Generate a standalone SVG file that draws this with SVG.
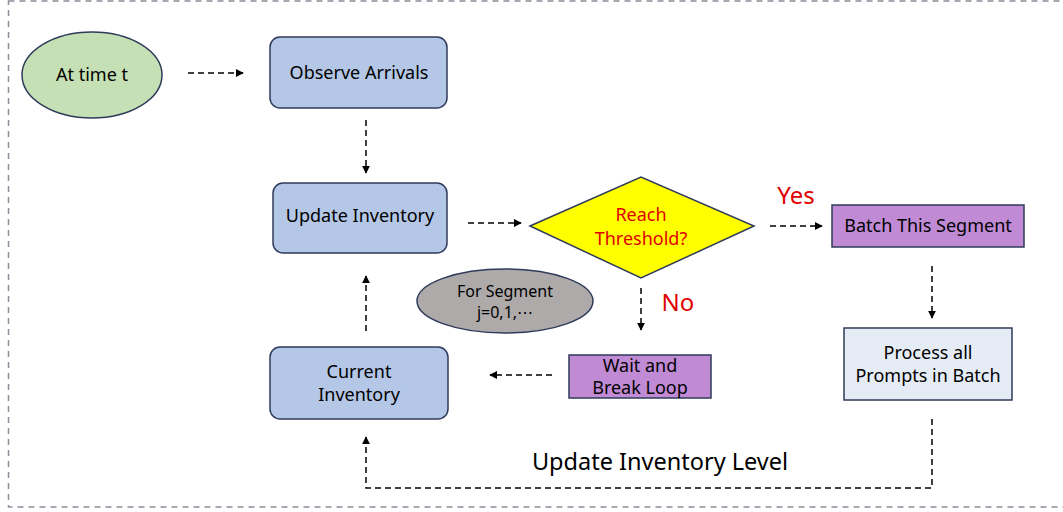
<svg xmlns="http://www.w3.org/2000/svg" width="1063" height="512" viewBox="0 0 1063 512">
<defs>
<marker id="ah" viewBox="0 0 10 10" refX="9" refY="5" markerWidth="8" markerHeight="8" markerUnits="userSpaceOnUse" orient="auto"><path d="M0,0 L10,5 L0,10 z" fill="#000"/></marker>
<style>
.t{font-family:"Noto Sans","Open Sans",sans-serif;font-size:18px;fill:#000;text-anchor:middle}
.r{fill:#e00000}
.n{stroke:#2f3b5a;stroke-width:1.5}
.c{fill:none;stroke:#000;stroke-width:1.5;stroke-dasharray:6,4}
</style>
</defs>
<rect x="8.5" y="1" width="1080" height="506" fill="none" stroke="#8a8f99" stroke-width="1.5" stroke-dasharray="6,5"/>
<g id="n-time"><ellipse class="n" cx="92" cy="75" rx="70" ry="43" fill="#c5e0b4"/><text class="t" x="92" y="81">At time t</text></g>
<g id="n-observe"><rect class="n" x="270" y="37" width="177" height="71" rx="10" fill="#b4c7e7"/><text class="t" x="359" y="79">Observe Arrivals</text></g>
<g id="n-update"><rect class="n" x="273" y="183" width="174" height="70" rx="10" fill="#b4c7e7"/><text class="t" x="360" y="222">Update Inventory</text></g>
<g id="n-reach"><polygon class="n" points="530,226 641,177 754,226 641,278" fill="#ffff00"/><text class="t r" x="641" y="221">Reach</text><text class="t r" x="641" y="245">Threshold?</text></g>
<g id="n-batch"><rect class="n" x="832" y="205" width="192" height="42" fill="#c08bd4"/><text class="t" x="928" y="232">Batch This Segment</text></g>
<g id="n-process"><rect class="n" x="844" y="328" width="168" height="72" fill="#e6ecf6"/><text class="t" x="928" y="359">Process all</text><text class="t" x="928" y="382">Prompts in Batch</text></g>
<g id="n-segment"><ellipse class="n" cx="505" cy="301" rx="88" ry="32" fill="#aeaaaa"/><text class="t" x="505" y="297" style="font-size:16px">For Segment</text><text class="t" x="505" y="318" style="font-size:16px">j=0,1,⋯</text></g>
<g id="n-wait"><rect class="n" x="569" y="355" width="142" height="43" fill="#c08bd4"/><text class="t" x="640" y="372">Wait and</text><text class="t" x="640" y="394">Break Loop</text></g>
<g id="n-current"><rect class="n" x="270" y="347" width="178" height="72" rx="10" fill="#b4c7e7"/><text class="t" x="359" y="378">Current</text><text class="t" x="359" y="401">Inventory</text></g>
<g id="connectors">
<path class="c" d="M188,73 H243" marker-end="url(#ah)"/>
<path class="c" d="M366,120 V173" marker-end="url(#ah)"/>
<path class="c" d="M468,223 H521" marker-end="url(#ah)"/>
<path class="c" d="M770,226 H822" marker-end="url(#ah)"/>
<path class="c" d="M932,266 V318" marker-end="url(#ah)"/>
<path class="c" d="M641,288 V330" marker-end="url(#ah)"/>
<path class="c" d="M552,375 H490" marker-end="url(#ah)"/>
<path class="c" d="M366,331 V276" marker-end="url(#ah)"/>
<path class="c" d="M932,419 V488 H366 V437" marker-end="url(#ah)"/>
</g>
<text class="t r" x="796" y="204" style="font-size:24px">Yes</text>
<text class="t r" x="678" y="311" style="font-size:24px">No</text>
<text class="t" x="660" y="470" style="font-size:23.5px">Update Inventory Level</text>
</svg>
